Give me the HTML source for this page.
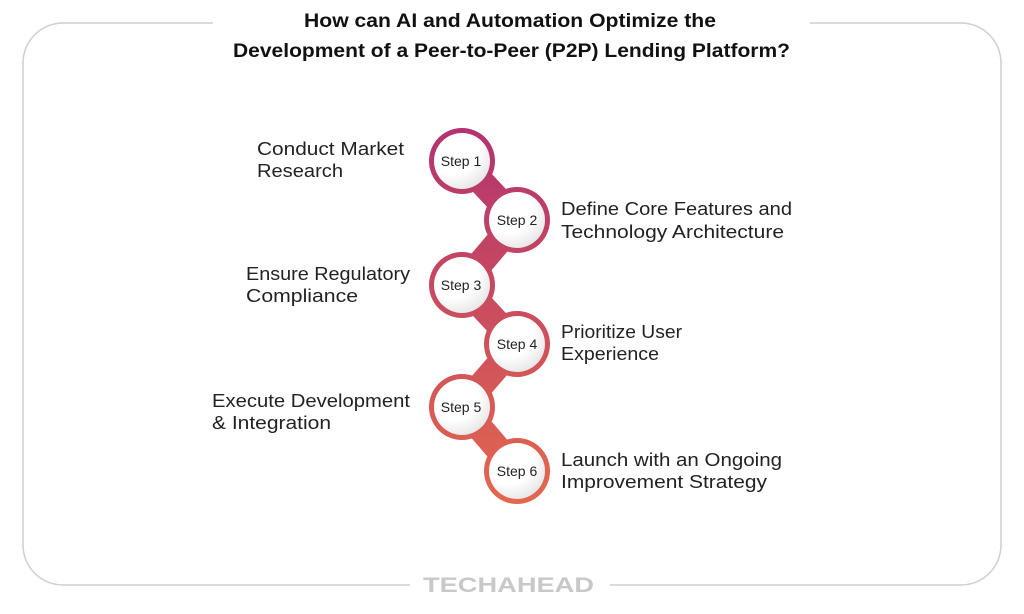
<!DOCTYPE html>
<html><head><meta charset="utf-8"><style>
body{margin:0;width:1024px;height:609px;background:#fff;overflow:hidden;font-family:"Liberation Sans",sans-serif}
</style></head><body>
<svg width="1024" height="609" viewBox="0 0 1024 609" xmlns="http://www.w3.org/2000/svg">
<defs>
<linearGradient id="g" x1="0" y1="128" x2="0" y2="504" gradientUnits="userSpaceOnUse">
<stop offset="0" stop-color="#b2336f"/><stop offset="1" stop-color="#e4684d"/></linearGradient>
<radialGradient id="w" cx="0.35" cy="0.3" r="0.8"><stop offset="0.55" stop-color="#fff"/><stop offset="1" stop-color="#e2e2e2"/></radialGradient>
</defs>
<path d="M213 23 H63 A40 40 0 0 0 23 63 V545 A40 40 0 0 0 63 585 H410 M610 585 H961 A40 40 0 0 0 1001 545 V63 A40 40 0 0 0 961 23 H810" fill="none" stroke="#cfcfcf" stroke-width="1.5"/>
<text x="304" y="27" textLength="412" lengthAdjust="spacingAndGlyphs" font-size="19" font-weight="bold" fill="#111">How can AI and Automation Optimize the</text>
<text x="233" y="57" textLength="557" lengthAdjust="spacingAndGlyphs" font-size="19" font-weight="bold" fill="#111">Development of a Peer-to-Peer (P2P) Lending Platform?</text>
<g stroke="url(#g)" stroke-width="26" fill="none" stroke-linejoin="round">
<polyline points="462,161 517,220 462,285 517,344 462,407 517,471"/>
</g>
<g fill="url(#g)">
<circle cx="462" cy="161" r="33"/><circle cx="517" cy="220" r="33"/><circle cx="462" cy="285" r="33"/>
<circle cx="517" cy="344" r="33"/><circle cx="462" cy="407" r="33"/><circle cx="517" cy="471" r="33"/>
</g>
<g fill="url(#w)">
<circle cx="462" cy="161" r="28"/><circle cx="517" cy="220" r="28"/><circle cx="462" cy="285" r="28"/>
<circle cx="517" cy="344" r="28"/><circle cx="462" cy="407" r="28"/><circle cx="517" cy="471" r="28"/>
</g>
<g font-size="14" fill="#222" text-anchor="middle">
<text x="461" y="166">Step 1</text><text x="517" y="225">Step 2</text><text x="461" y="290">Step 3</text>
<text x="517" y="349">Step 4</text><text x="461" y="412">Step 5</text><text x="517" y="476">Step 6</text>
</g>
<g font-size="18" fill="#222" lengthAdjust="spacingAndGlyphs">
<text x="257" y="155" textLength="147" lengthAdjust="spacingAndGlyphs">Conduct Market</text><text x="257" y="177" textLength="86" lengthAdjust="spacingAndGlyphs">Research</text>
<text x="561" y="215" textLength="231" lengthAdjust="spacingAndGlyphs">Define Core Features and</text><text x="561" y="238" textLength="223" lengthAdjust="spacingAndGlyphs">Technology Architecture</text>
<text x="246" y="280" textLength="164" lengthAdjust="spacingAndGlyphs">Ensure Regulatory</text><text x="246" y="302" textLength="112" lengthAdjust="spacingAndGlyphs">Compliance</text>
<text x="561" y="338" textLength="121" lengthAdjust="spacingAndGlyphs">Prioritize User</text><text x="561" y="360" textLength="98" lengthAdjust="spacingAndGlyphs">Experience</text>
<text x="212" y="407" textLength="198" lengthAdjust="spacingAndGlyphs">Execute Development</text><text x="212" y="429" textLength="119" lengthAdjust="spacingAndGlyphs">&amp; Integration</text>
<text x="561" y="466" textLength="221" lengthAdjust="spacingAndGlyphs">Launch with an Ongoing</text><text x="561" y="488" textLength="206" lengthAdjust="spacingAndGlyphs">Improvement Strategy</text>
</g>
<text x="423" y="592" textLength="171" lengthAdjust="spacingAndGlyphs" font-size="21" font-weight="bold" fill="#c8c8c8">TECHAHEAD</text>
</svg>
</body></html>
